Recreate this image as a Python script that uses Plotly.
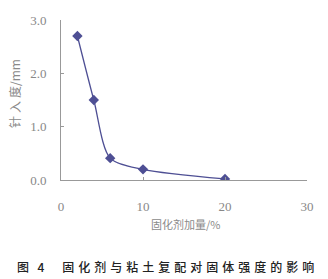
import plotly.graph_objects as go

x_vals = [2, 4, 6, 10, 20]
y_vals = [2.7, 1.5, 0.41, 0.2, 0.02]
x_ticks = [0, 10, 20, 30]
y_ticks = [0.0, 1.0, 2.0, 3.0]
y_tick_text = ["0.0", "1.0", "2.0", "3.0"]

W, H = 328, 279
L, R, T, B = 61, 21, 20, 99
pw, ph = W - L - R, H - T - B


def px(xp):
    return (xp - L) / pw


def py(yp):
    return (H - B - yp) / ph


serif = "Liberation Serif"
sp = "\u2005"
sp2 = "\u2004"
caption = "图\u2002\u20094" + "\u2003\u2002" + sp2.join("固化剂与粘土复配对固体强度的影响")

fig = go.Figure()
fig.add_trace(go.Scatter(
    x=x_vals, y=y_vals, mode="lines+markers",
    line=dict(color="#4e4f94", width=1.3, shape="spline", smoothing=0.8),
    marker=dict(symbol="diamond", size=8, color="#4e4f94"),
    showlegend=False,
))
fig.update_layout(
    width=W, height=H,
    margin=dict(l=L, r=R, t=T, b=B),
    plot_bgcolor="white", paper_bgcolor="white",
    font=dict(family=serif, color="#888888", size=13),
    xaxis=dict(range=[0, 30], tickvals=x_ticks, showgrid=False, zeroline=False,
               showline=True, linecolor="#999999", linewidth=1,
               ticks="inside", ticklen=3, tickcolor="#999999",
               tickfont=dict(family=serif, size=13, color="#888888"),
               ticklabelstandoff=14),
    yaxis=dict(range=[0, 3.0], tickvals=y_ticks, ticktext=y_tick_text,
               showgrid=False, zeroline=False,
               showline=True, linecolor="#999999", linewidth=1,
               ticks="inside", ticklen=3, tickcolor="#999999",
               tickfont=dict(family=serif, size=13, color="#888888"),
               ticklabelstandoff=11),
    annotations=[
        dict(text="针" + sp + "入" + sp + "度/mm", x=px(14), y=py(94),
             xref="paper", yref="paper",
             xanchor="center", yanchor="middle",
             showarrow=False, textangle=-90,
             font=dict(family="Noto Sans CJK SC", size=12, color="#8a8a8a")),
        dict(text="固化剂加量/%", x=px(185), y=py(224), xref="paper", yref="paper",
             xanchor="center", yanchor="middle", showarrow=False,
             font=dict(family="Noto Sans CJK SC", size=11, color="#8a8a8a")),
        dict(text=caption, x=px(165), y=py(266),
             xref="paper", yref="paper", xanchor="center", yanchor="middle",
             showarrow=False,
             font=dict(family="Noto Sans CJK SC", size=12, color="#222222",
                       weight=500)),
    ],
)
fig.write_html("out.html")
